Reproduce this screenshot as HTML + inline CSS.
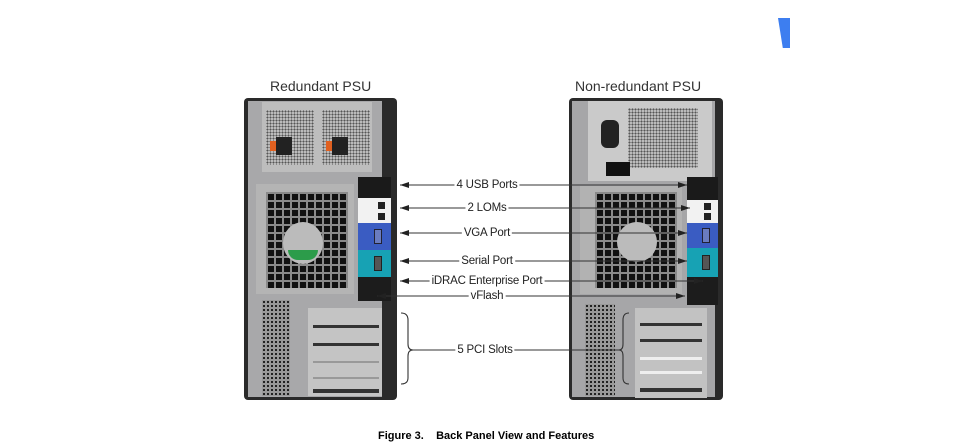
<!DOCTYPE html>
<html><head><meta charset="utf-8"><style>
body{margin:0;width:960px;height:447px;background:#fff;position:relative;overflow:hidden;font-family:"Liberation Sans",sans-serif}
div{position:absolute;box-sizing:border-box}
.lbl{font-size:11.5px;color:#222;background:#fff;padding:0 2px;white-space:nowrap;transform:translate(-50%,-50%);letter-spacing:-0.2px}
.grid{background-image:linear-gradient(#8a8a8a 2px,transparent 2px),linear-gradient(90deg,#8a8a8a 2px,transparent 2px);background-size:8px 8px;background-color:#111}
.dots{background-image:radial-gradient(#222 40%,transparent 45%);background-size:4px 4px;background-color:#999}
.mesh{background-image:radial-gradient(#555 40%,transparent 45%);background-size:3px 3px;background-color:#bbb}
</style></head><body>
<div style="left:778px;top:18px;width:12px;height:30px;background:#3d7ef0;clip-path:polygon(0 0,100% 0,100% 100%,40% 100%)"></div>
<div style="left:270px;top:78px;font-size:14px;color:#333">Redundant PSU</div>
<div style="left:575px;top:78px;font-size:14px;color:#333">Non-redundant PSU</div>

<!-- left server -->
<div style="left:244px;top:98px;width:153px;height:302px;background:#2a2a2a;border-radius:4px"></div>
<div style="left:248px;top:101px;width:134px;height:296px;background:#a8a8aa"></div>
<div style="left:262px;top:102px;width:110px;height:70px;background:#bdbdbd"></div>
<div class="mesh" style="left:266px;top:110px;width:48px;height:55px"></div>
<div class="mesh" style="left:322px;top:110px;width:48px;height:55px"></div>
<div style="left:276px;top:137px;width:16px;height:18px;background:#222"></div>
<div style="left:270px;top:141px;width:6px;height:10px;background:#e06020"></div>
<div style="left:332px;top:137px;width:16px;height:18px;background:#222"></div>
<div style="left:326px;top:141px;width:6px;height:10px;background:#e06020"></div>
<div style="left:256px;top:184px;width:98px;height:110px;background:#b4b4b4"></div>
<div class="grid" style="left:266px;top:192px;width:82px;height:96px"></div>
<div style="left:283px;top:222px;width:40px;height:42px;border-radius:50%;background:#bbb"></div>
<div style="left:288px;top:250px;width:30px;height:10px;background:#2c9c4a;border-radius:0 0 10px 10px"></div>
<div style="left:358px;top:177px;width:33px;height:21px;background:#1a1a1a"></div>
<div style="left:358px;top:198px;width:33px;height:25px;background:#f2f2f2"></div>
<div style="left:378px;top:202px;width:7px;height:7px;background:#222"></div>
<div style="left:378px;top:213px;width:7px;height:7px;background:#222"></div>
<div style="left:358px;top:223px;width:33px;height:27px;background:#3a5cc2"></div>
<div style="left:374px;top:229px;width:8px;height:15px;background:#6a7cc0;border:1px solid #223"></div>
<div style="left:358px;top:250px;width:33px;height:27px;background:#17a2b4"></div>
<div style="left:374px;top:256px;width:8px;height:15px;background:#555;border:1px solid #222"></div>
<div style="left:358px;top:277px;width:33px;height:24px;background:#1c1c1c"></div>
<div class="dots" style="left:262px;top:300px;width:28px;height:96px"></div>
<div style="left:308px;top:308px;width:74px;height:88px;background:#c4c4c4"></div>
<div style="left:313px;top:325px;width:66px;height:3px;background:#333"></div>
<div style="left:313px;top:343px;width:66px;height:3px;background:#333"></div>
<div style="left:313px;top:361px;width:66px;height:2px;background:#999"></div>
<div style="left:313px;top:377px;width:66px;height:2px;background:#999"></div>
<div style="left:313px;top:389px;width:66px;height:4px;background:#333"></div>

<!-- right server -->
<div style="left:569px;top:98px;width:154px;height:302px;background:#2a2a2a;border-radius:4px"></div>
<div style="left:572px;top:101px;width:143px;height:296px;background:#a6a6a8"></div>
<div style="left:588px;top:101px;width:124px;height:80px;background:#cacaca"></div>
<div class="mesh" style="left:628px;top:108px;width:70px;height:60px"></div>
<div style="left:601px;top:120px;width:18px;height:28px;background:#222;border-radius:6px"></div>
<div style="left:606px;top:162px;width:24px;height:14px;background:#111"></div>
<div style="left:580px;top:186px;width:102px;height:108px;background:#b2b2b2"></div>
<div class="grid" style="left:595px;top:192px;width:82px;height:96px"></div>
<div style="left:617px;top:222px;width:40px;height:40px;border-radius:50%;background:#bbb"></div>
<div style="left:687px;top:177px;width:31px;height:23px;background:#1a1a1a"></div>
<div style="left:687px;top:200px;width:31px;height:23px;background:#f2f2f2"></div>
<div style="left:704px;top:203px;width:7px;height:7px;background:#222"></div>
<div style="left:704px;top:213px;width:7px;height:7px;background:#222"></div>
<div style="left:687px;top:223px;width:31px;height:25px;background:#3a5cc2"></div>
<div style="left:702px;top:228px;width:8px;height:15px;background:#6a7cc0;border:1px solid #223"></div>
<div style="left:687px;top:248px;width:31px;height:29px;background:#17a2b4"></div>
<div style="left:702px;top:255px;width:8px;height:15px;background:#555;border:1px solid #222"></div>
<div style="left:687px;top:277px;width:31px;height:28px;background:#1c1c1c"></div>
<div class="dots" style="left:585px;top:304px;width:30px;height:92px"></div>
<div style="left:635px;top:308px;width:72px;height:90px;background:#c2c2c2"></div>
<div style="left:640px;top:323px;width:62px;height:3px;background:#333"></div>
<div style="left:640px;top:339px;width:62px;height:3px;background:#333"></div>
<div style="left:640px;top:357px;width:62px;height:3px;background:#eee"></div>
<div style="left:640px;top:371px;width:62px;height:3px;background:#eee"></div>
<div style="left:640px;top:388px;width:62px;height:4px;background:#333"></div>

<svg width="960" height="447" style="position:absolute;left:0;top:0">
<defs><marker id="a" markerUnits="userSpaceOnUse" markerWidth="10" markerHeight="8" refX="9" refY="4" orient="auto-start-reverse"><path d="M0,1 L9,4 L0,7z" fill="#222"/></marker></defs>
<g stroke="#333" stroke-width="1.1" fill="none">
<line x1="400" y1="185" x2="687" y2="185" marker-start="url(#a)" marker-end="url(#a)"/>
<line x1="400" y1="208" x2="690" y2="208" marker-start="url(#a)" marker-end="url(#a)"/>
<line x1="400" y1="233" x2="687" y2="233" marker-start="url(#a)" marker-end="url(#a)"/>
<line x1="400" y1="261" x2="687" y2="261" marker-start="url(#a)" marker-end="url(#a)"/>
<line x1="400" y1="281" x2="703" y2="281" marker-start="url(#a)" marker-end="url(#a)"/>
<line x1="377" y1="296" x2="685" y2="296" marker-start="url(#a)" marker-end="url(#a)"/>
<line x1="412" y1="350" x2="620" y2="350"/>
<path d="M401,313 Q408,313 408,320 L408,344 Q408,350 413,350 Q408,350 408,356 L408,378 Q408,384 401,384"/>
<path d="M629,313 Q623,313 623,320 L623,344 Q623,350 619,350 Q623,350 623,356 L623,378 Q623,384 629,384"/>
</g></svg>
<div class="lbl" style="left:487px;top:185px">4 USB Ports</div>
<div class="lbl" style="left:487px;top:208px">2 LOMs</div>
<div class="lbl" style="left:487px;top:233px">VGA Port</div>
<div class="lbl" style="left:487px;top:261px">Serial Port</div>
<div class="lbl" style="left:487px;top:281px">iDRAC Enterprise Port</div>
<div class="lbl" style="left:487px;top:296px">vFlash</div>
<div class="lbl" style="left:485px;top:350px">5 PCI Slots</div>
<div style="left:378px;top:430px;font-size:11px;font-weight:bold;white-space:pre">Figure 3.    Back Panel View and Features</div>
</body></html>
